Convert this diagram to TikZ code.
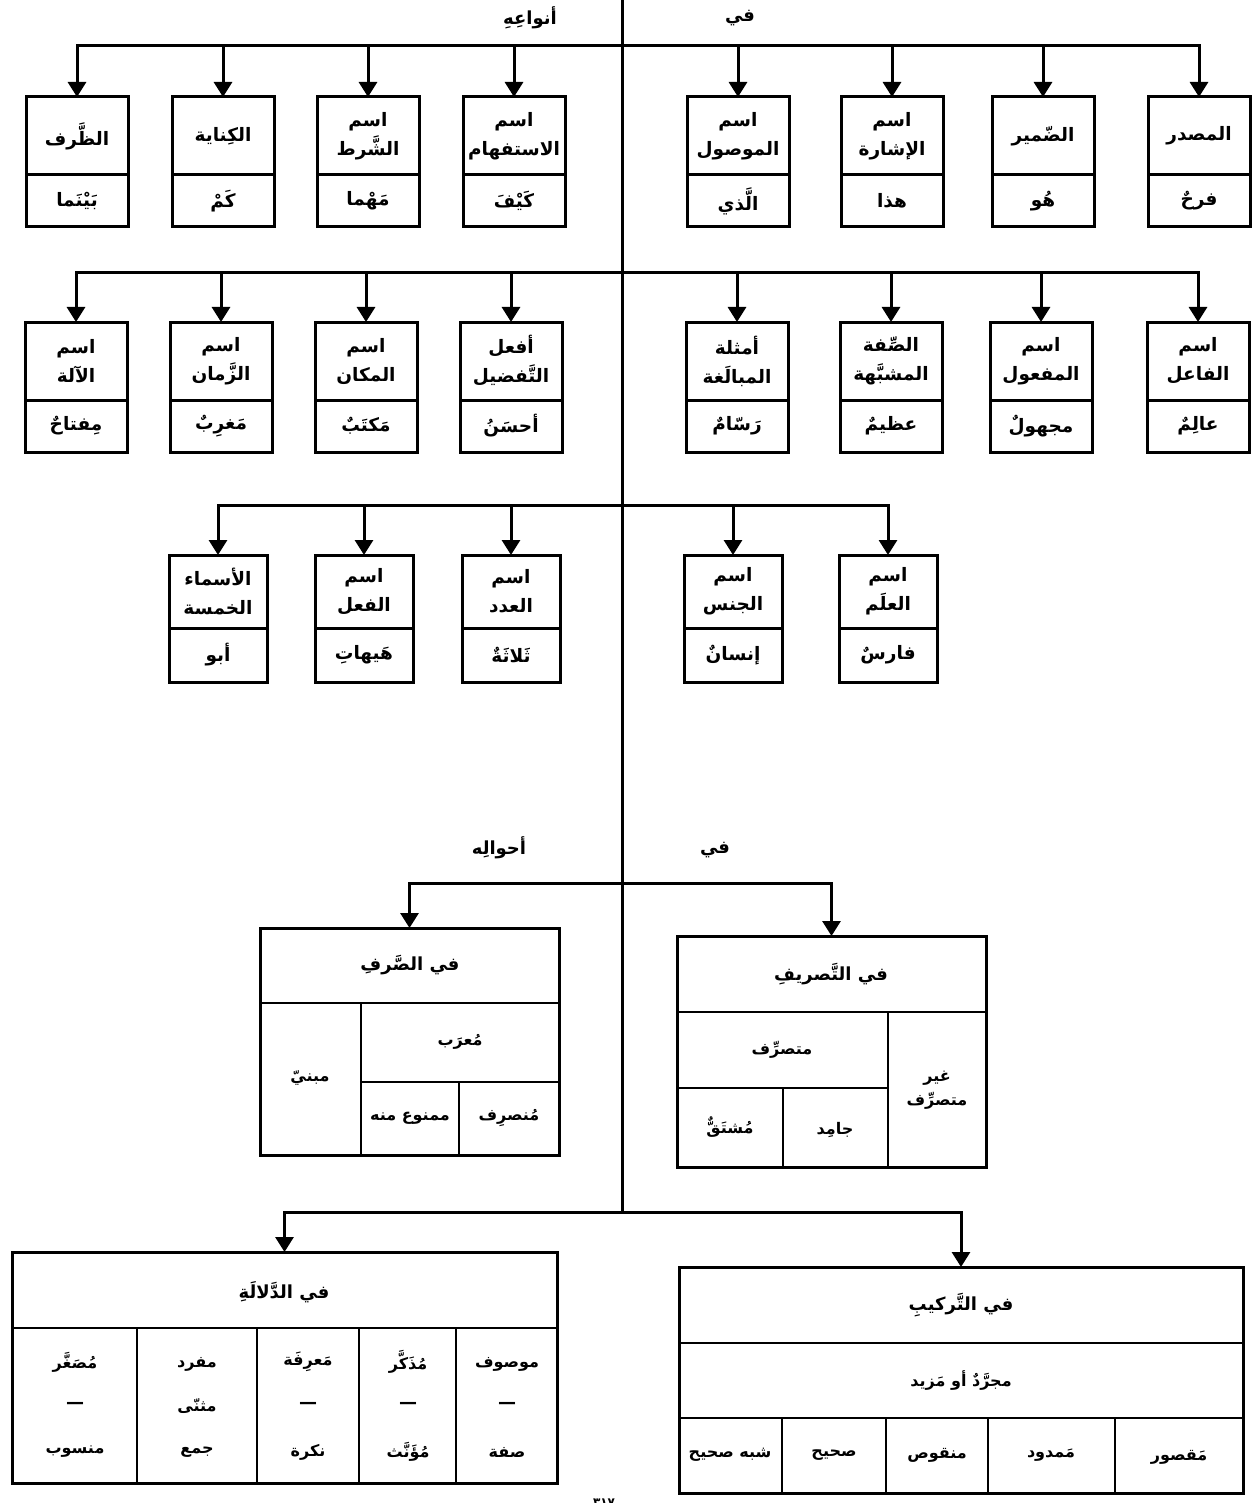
\documentclass[tikz,border=0pt]{standalone}
\usepackage{fontspec}
\TeXXeTstate=1
\newfontfamily\arabicfont[Script=Arabic]{DejaVu Sans}
\usetikzlibrary{arrows.meta}
\newcommand\AR[1]{\beginR#1\endR}
\newcommand\tf{\arabicfont\bfseries\fontsize{16}{24}\selectfont}
\newcommand\tfr{\arabicfont\bfseries\fontsize{18.5}{29}\selectfont}
\newcommand\tfl{\arabicfont\bfseries\fontsize{18}{24}\selectfont}
\newcommand\twobox[7]{%
  \node[cell, anchor=north, minimum height=#4] (#1h) at (#2,#3) {#6};
  \node[cell, anchor=north, minimum height=#5] (#1e) at (#1h.south) {#7};
}
\begin{document}
\begin{tikzpicture}[x=1pt,y=-1pt,
  every node/.style={inner sep=0pt, outer sep=0pt, font=\tf},
  cell/.style={draw, line width=3pt, minimum width=102pt, align=center, font=\tfr},
  ln/.style={line width=3pt, line cap=rect},
  arr/.style={line width=3pt, -{Triangle[width=18pt,length=15pt]}},
  frame/.style={draw, line width=3pt, anchor=north west},
  div/.style={line width=2.2pt},
  big/.style={font=\tfl},
  dashtxt/.style={font=\arabicfont\bfseries\fontsize{18}{24}\selectfont}]
\useasboundingbox (0,0) rectangle (1257,1503);

% spine
\coordinate (S0) at (622,0);
\coordinate (S1) at (622,1212);
\draw[ln] (S0) -- (S1);

% top labels
\node[big] (anwa) at (530,18) {\AR{أنواعِهِ}};
\node[big] (fi1) at (740,18) {\AR{في}};

% ---------- row 1
\twobox{a1}{1199}{97}{78}{52}{\AR{المصدر}}{\AR{فرحٌ}}
\twobox{a2}{1043}{97}{78}{52}{\AR{الضّمير}}{\AR{هُو}}
\twobox{a3}{892}{97}{78}{52}{\AR{اسم}\\\AR{الإشارة}}{\AR{هذا}}
\twobox{a4}{738}{97}{78}{52}{\AR{اسم}\\\AR{الموصول}}{\AR{الَّذي}}
\twobox{a5}{514}{97}{78}{52}{\AR{اسم}\\\AR{الاستفهام}}{\AR{كَيْفَ}}
\twobox{a6}{368}{97}{78}{52}{\AR{اسم}\\\AR{الشَّرط}}{\AR{مَهْما}}
\twobox{a7}{223}{97}{78}{52}{\AR{الكِناية}}{\AR{كَمْ}}
\twobox{a8}{77}{97}{78}{52}{\AR{الظَّرف}}{\AR{بَيْنَما}}
\coordinate (L1) at (0,46);
\draw[ln] (a8h.north |- L1) -- (a1h.north |- L1);
\foreach \n in {a1h,a2h,a3h,a4h,a5h,a6h,a7h,a8h}
  \draw[arr] (\n.north |- L1) -- (\n.north);

% ---------- row 2
\twobox{b1}{1198}{322}{78}{52}{\AR{اسم}\\\AR{الفاعل}}{\AR{عالِمٌ}}
\twobox{b2}{1041}{322}{78}{52}{\AR{اسم}\\\AR{المفعول}}{\AR{مجهولٌ}}
\twobox{b3}{891}{322}{78}{52}{\AR{الصِّفة}\\\AR{المشبَّهة}}{\AR{عظيمٌ}}
\twobox{b4}{737}{322}{78}{52}{\AR{أمثلة}\\\AR{المبالَغة}}{\AR{رَسّامٌ}}
\twobox{b5}{511}{322}{78}{52}{\AR{أفعل}\\\AR{التَّفضيل}}{\AR{أحسَنُ}}
\twobox{b6}{366}{322}{78}{52}{\AR{اسم}\\\AR{المكان}}{\AR{مَكتَبٌ}}
\twobox{b7}{221}{322}{78}{52}{\AR{اسم}\\\AR{الزَّمان}}{\AR{مَغرِبٌ}}
\twobox{b8}{76}{322}{78}{52}{\AR{اسم}\\\AR{الآلة}}{\AR{مِفتاحٌ}}
\coordinate (L2) at (0,273);
\draw[ln] (b8h.north |- L2) -- (b1h.north |- L2);
\foreach \n in {b1h,b2h,b3h,b4h,b5h,b6h,b7h,b8h}
  \draw[arr] (\n.north |- L2) -- (\n.north);

% ---------- row 3
\begin{scope}[cell/.append style={minimum width=98pt}]
\twobox{c1}{888}{555}{73}{54}{\AR{اسم}\\\AR{العلَم}}{\AR{فارسٌ}}
\twobox{c2}{733}{555}{73}{54}{\AR{اسم}\\\AR{الجنس}}{\AR{إنسانٌ}}
\twobox{c3}{511}{555}{73}{54}{\AR{اسم}\\\AR{العدد}}{\AR{ثَلاثَةٌ}}
\twobox{c4}{364}{555}{73}{54}{\AR{اسم}\\\AR{الفعل}}{\AR{هَيهاتِ}}
\twobox{c5}{218}{555}{73}{54}{\AR{الأسماء}\\\AR{الخمسة}}{\AR{أبو}}
\end{scope}
\coordinate (L3) at (0,505);
\draw[ln] (c5h.north |- L3) -- (c1h.north |- L3);
\foreach \n in {c1h,c2h,c3h,c4h,c5h}
  \draw[arr] (\n.north |- L3) -- (\n.north);

% ---------- lower labels
\node[big] (ahwal) at (499,848) {\AR{أحوالِه}};
\node[big] (fi2) at (715,850) {\AR{في}};

% ---------- table: al-sarf
\node[frame, minimum width=299pt, minimum height=227pt] (sarf) at (260,928) {};
\draw[div] (260,1003) -- (559,1003);
\draw[div] (361,1003) -- (361,1155);
\draw[div] (361,1082) -- (559,1082);
\draw[div] (459,1082) -- (459,1155);
\node[big] (sarfh) at (410,965) {\AR{في الصَّرفِ}};
\node (mabni) at (310,1078) {\AR{مبنيّ}};
\node (murab) at (460,1042) {\AR{مُعرَب}};
\node (mamnu) at (410,1118) {\AR{ممنوع منه}};
\node (munsarif) at (509,1118) {\AR{مُنصرِف}};

% ---------- table: al-tasrif
\node[frame, minimum width=309pt, minimum height=231pt] (tasrif) at (677,936) {};
\draw[div] (677,1012) -- (986,1012);
\draw[div] (888,1012) -- (888,1167);
\draw[div] (677,1088) -- (888,1088);
\draw[div] (783,1088) -- (783,1167);
\node[big] (tasrifh) at (831,974) {\AR{في التَّصريفِ}};
\node (mutasarrif) at (782,1050) {\AR{متصرِّف}};
\node[align=center] (ghayr) at (937,1090) {\AR{غير}\\\AR{متصرِّف}};
\node (mushtaq) at (730,1127) {\AR{مُشتَقٌّ}};
\node (jamid) at (835,1130) {\AR{جامِد}};

\coordinate (L4) at (0,883);
\draw[ln] (sarf.north |- L4) -- (tasrif.north |- L4);
\draw[arr] (sarf.north |- L4) -- (sarf.north);
\draw[arr] (tasrif.north |- L4) -- (tasrif.north);

% ---------- table: al-dalala
\node[frame, minimum width=545pt, minimum height=231pt] (dalala) at (12,1252) {};
\draw[div] (12,1328) -- (557,1328);
\foreach \xx in {137,257,359,456} \draw[div] (\xx,1328) -- (\xx,1483);
\node[big] (dalalah) at (284,1292) {\AR{في الدَّلالَةِ}};
\node (d11) at (507,1364) {\AR{موصوف}};
\node[dashtxt] (d12) at (507,1405) {—};
\node (d13) at (507,1452) {\AR{صفة}};
\node (d21) at (408,1362) {\AR{مُذَكَّر}};
\node[dashtxt] (d22) at (408,1405) {—};
\node (d23) at (408,1452) {\AR{مُؤَنَّث}};
\node (d31) at (308,1362) {\AR{مَعرِفَة}};
\node[dashtxt] (d32) at (308,1405) {—};
\node (d33) at (308,1452) {\AR{نكرة}};
\node (d41) at (197,1364) {\AR{مفرد}};
\node (d42) at (197,1406) {\AR{مثنّى}};
\node (d43) at (197,1452) {\AR{جمع}};
\node (d51) at (75,1362) {\AR{مُصَغَّر}};
\node[dashtxt] (d52) at (75,1405) {—};
\node (d53) at (75,1452) {\AR{منسوب}};

% ---------- table: al-tarkib
\node[frame, minimum width=564pt, minimum height=226pt] (tarkib) at (679,1267) {};
\draw[div] (679,1343) -- (1243,1343);
\draw[div] (679,1418) -- (1243,1418);
\foreach \xx in {782,886,988,1115} \draw[div] (\xx,1418) -- (\xx,1493);
\node[big] (tarkibh) at (961,1305) {\AR{في التَّركيبِ}};
\node (mujarrad) at (961,1380) {\AR{مجرَّدٌ أو مَزيد}};
\node (t1) at (1179,1457) {\AR{مَقصور}};
\node (t2) at (1051,1455) {\AR{مَمدود}};
\node (t3) at (937,1455) {\AR{منقوص}};
\node (t4) at (834,1455) {\AR{صحيح}};
\node (t5) at (730,1455) {\AR{شبه صحيح}};

\coordinate (L5) at (0,1212);
\draw[ln] (dalala.north |- L5) -- (tarkib.north |- L5);
\draw[arr] (dalala.north |- L5) -- (dalala.north);
\draw[arr] (tarkib.north |- L5) -- (tarkib.north);

% page number (cut by the page edge)
\node[font=\arabicfont\bfseries\fontsize{12}{14}\selectfont] (pageno) at (604,1503) {\AR{٣١٧}};
\end{tikzpicture}
\end{document}
